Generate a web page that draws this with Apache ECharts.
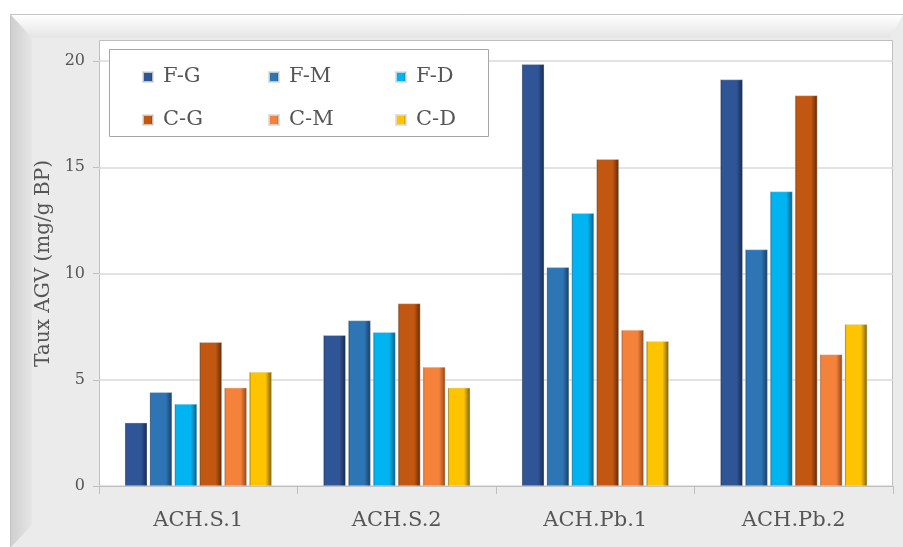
<!DOCTYPE html>
<html>
<head>
<meta charset="utf-8">
<script src="https://cdn.jsdelivr.net/npm/echarts@6/dist/echarts.min.js"></script>
<style>
  html, body { margin: 0; padding: 0; background: #fff; }
  #main { width: 903px; height: 547px; }
</style>
</head>
<body>
<div id="main"></div>
<script>
// categories and series
var categories = ['ACH.S.1', 'ACH.S.2', 'ACH.Pb.1', 'ACH.Pb.2'];
var seriesNames = ['F-G', 'F-M', 'F-D', 'C-G', 'C-M', 'C-D'];
var fG = [2.98, 7.10, 19.85, 19.13];
var fM = [4.41, 7.79, 10.29, 11.13];
var fD = [3.86, 7.24, 12.84, 13.86];
var cG = [6.77, 8.59, 15.38, 18.38];
var cM = [4.62, 5.60, 7.34, 6.19];
var cD = [5.36, 4.62, 6.81, 7.61];
var seriesData = [fG, fM, fD, cG, cM, cD];
var yTicks = [0, 5, 10, 15, 20];

var baseColors = ['#2f5597', '#2e75b6', '#00b4f2', '#c25711', '#f5823a', '#ffc400'];
var darkColors = ['#16284d', '#173b60', '#005a80', '#5e2a07', '#8f461b', '#7a5c00'];

var FONT = '"DejaVu Serif", "Liberation Serif", serif';
var TXT = '#555555';

function barFill(i) {
    return new echarts.graphic.LinearGradient(0, 0, 1, 0, [
        { offset: 0, color: darkColors[i] },
        { offset: 0.08, color: baseColors[i] },
        { offset: 0.72, color: baseColors[i] },
        { offset: 1, color: darkColors[i] }
    ]);
}

var chart = echarts.init(document.getElementById('main'));

var series = seriesNames.map(function (name, i) {
    return {
        name: name,
        type: 'bar',
        data: seriesData[i],
        barGap: '11%',
        barCategoryGap: '26%',
        itemStyle: {
            color: barFill(i),
            borderColor: 'rgba(220,220,220,0.8)',
            borderWidth: 0.5
        }
    };
});

function colLegend(names, left) {
    return {
        orient: 'vertical',
        left: left,
        top: 61,
        data: names,
        icon: 'rect',
        itemWidth: 10,
        itemHeight: 10,
        itemGap: 21,
        selectedMode: false,
        textStyle: { fontFamily: FONT, fontSize: 21, color: TXT, lineHeight: 22, padding: [0, 0, 0, 5] }
    };
}

chart.setOption({
    animation: false,
    backgroundColor: '#fff',
    textStyle: { fontFamily: FONT },
    graphic: [
        // outer frame
        { type: 'rect', z: -10, silent: true, shape: { x: 10.5, y: 14.5, width: 900, height: 540 },
          style: { fill: '#ebebeb', stroke: '#c4c4c4', lineWidth: 1 } },
        // top bevel
        { type: 'polygon', z: -9, silent: true,
          shape: { points: [[11, 15], [903, 15], [890, 38], [32, 38]] },
          style: { fill: new echarts.graphic.LinearGradient(0, 0, 0, 1, [
              { offset: 0, color: '#ffffff' }, { offset: 1, color: '#e4e4e4' }]) } },
        // left bevel
        { type: 'polygon', z: -9, silent: true,
          shape: { points: [[11, 15], [32, 38], [32, 525], [11, 547]] },
          style: { fill: new echarts.graphic.LinearGradient(0, 0, 1, 0, [
              { offset: 0, color: '#cfcfcf' }, { offset: 1, color: '#e6e6e6' }]) } },
        // plot area
        { type: 'rect', z: -8, silent: true, shape: { x: 99.5, y: 40.5, width: 793, height: 446 },
          style: { fill: '#ffffff', stroke: '#bfbfbf', lineWidth: 1 } },
        // legend box
        { type: 'rect', z: 3, silent: true, shape: { x: 109.5, y: 49.5, width: 379, height: 87 },
          style: { fill: '#ffffff', stroke: '#a6a6a6', lineWidth: 1 } }
    ],
    legend: [
        colLegend(['F-G', 'C-G'], 137),
        colLegend(['F-M', 'C-M'], 263),
        colLegend(['F-D', 'C-D'], 390)
    ],
    grid: { left: 99, right: 10, top: 61, bottom: 61 },
    xAxis: {
        type: 'category',
        data: categories,
        axisLine: { lineStyle: { color: '#bfbfbf', width: 1 } },
        axisTick: { show: true, length: 8, lineStyle: { color: '#bfbfbf' } },
        axisLabel: { fontFamily: FONT, fontSize: 21, color: TXT, margin: 24 }
    },
    yAxis: {
        type: 'value',
        min: yTicks[0],
        max: yTicks[yTicks.length - 1],
        interval: 5,
        name: 'Taux AGV (mg/g BP)',
        nameLocation: 'middle',
        nameGap: 45,
        nameTextStyle: { fontFamily: FONT, fontSize: 20, color: TXT, padding: [0, 0, 0, 20] },
        axisLine: { show: false },
        axisTick: { show: true, length: 6, lineStyle: { color: '#bfbfbf' } },
        axisLabel: { fontFamily: FONT, fontSize: 16, color: TXT, margin: 14 },
        splitLine: { lineStyle: { color: '#d9d9d9', width: 1.5 } }
    },
    series: series
});
</script>
</body>
</html>
